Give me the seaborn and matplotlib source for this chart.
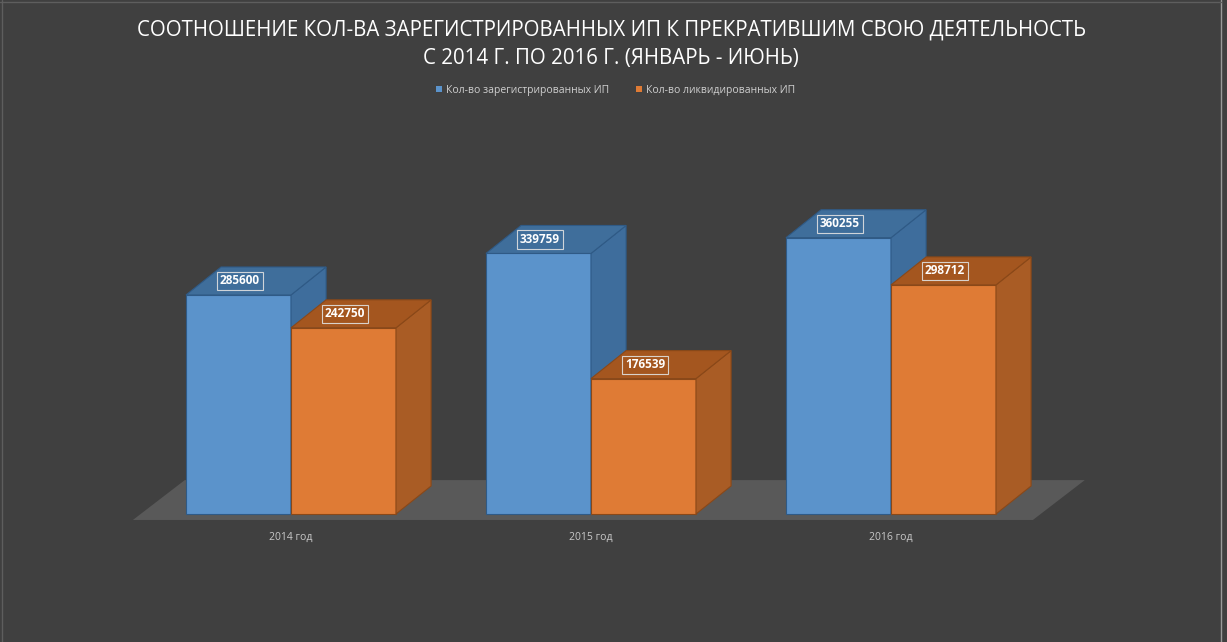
"""Соотношение кол-ва зарегистрированных ИП к прекратившим деятельность, 2014-2016."""

import matplotlib

matplotlib.use("Agg")
import matplotlib.pyplot as plt
import matplotlib.patches as mpatches
from matplotlib.lines import Line2D
import pandas as pd
import seaborn as sns

# --- data -------------------------------------------------------------
years = ["2014 год", "2015 год", "2016 год"]
series = ["Кол-во зарегистрированных ИП", "Кол-во ликвидированных ИП"]
registered = [285600, 339759, 360255]
liquidated = [242750, 176539, 298712]

title = ("СООТНОШЕНИЕ КОЛ-ВА ЗАРЕГИСТРИРОВАННЫХ ИП К ПРЕКРАТИВШИМ СВОЮ ДЕЯТЕЛЬНОСТЬ\n"
         "С 2014 Г. ПО 2016 Г. (ЯНВАРЬ - ИЮНЬ)")

# --- style ------------------------------------------------------------
BG = "#404040"
FLOOR = "#595959"
TXT = "#c8c8c8"
FACES = {
    series[0]: {"front": "#5b93cb", "side": "#3e6d9c", "top": "#3f6e9b", "edge": "#2f5a86"},
    series[1]: {"front": "#df7b35", "side": "#a95c25", "top": "#a4561f", "edge": "#8a4818"},
}
DX, DY = 0.117, 36500          # depth offset of the 3D bars (data units)
FDX, FDY = 0.173, 52000        # depth offset of the floor

sns.set_theme(style="white")
plt.rcParams["font.family"] = ["Open Sans", "DejaVu Sans"]

df = pd.DataFrame({
    "year": years * 2,
    "series": [series[0]] * len(years) + [series[1]] * len(years),
    "value": registered + liquidated,
})

fig = plt.figure(figsize=(12.27, 6.42), dpi=100, facecolor=BG)
ax = fig.add_axes([0.1149, 0.1755, 0.7335, 0.645])
ax.set_facecolor(BG)

sns.barplot(data=df, x="year", y="value", hue="series", order=years, hue_order=series,
            palette=[FACES[s]["front"] for s in series], width=0.7, legend=False,
            saturation=1, ax=ax)

ax.set_xlim(-0.5, 2.5)
ax.set_ylim(-20000, 520000)

# floor
fx0, fx1, fy = -0.527, 2.473, -7800
ax.add_patch(mpatches.Polygon([(fx0, fy), (fx1, fy), (fx1 + FDX, fy + FDY), (fx0 + FDX, fy + FDY)],
                              closed=True, facecolor=FLOOR, edgecolor="none", zorder=1,
                              clip_on=False))

# seaborn draws one hue level after the other
bars = [(bar, s) for bar, s in zip(ax.patches[:len(df)], df["series"])]
bars.sort(key=lambda t: t[0].get_x())

for rank, (bar, s) in enumerate(bars):
    x0, w, h = bar.get_x(), bar.get_width(), bar.get_height()
    c = FACES[s]
    z = 3 + rank
    bar.set_edgecolor(c["edge"])
    bar.set_linewidth(0.8)
    bar.set_zorder(z)
    side = [(x0 + w, 0), (x0 + w + DX, DY), (x0 + w + DX, h + DY), (x0 + w, h)]
    top = [(x0, h), (x0 + w, h), (x0 + w + DX, h + DY), (x0 + DX, h + DY)]
    ax.add_patch(mpatches.Polygon(side, closed=True, facecolor=c["side"], edgecolor=c["edge"],
                                  linewidth=0.8, zorder=z))
    ax.add_patch(mpatches.Polygon(top, closed=True, facecolor=c["top"], edgecolor=c["edge"],
                                  linewidth=0.8, zorder=z))
    ax.text(x0 + w / 2 + 0.005, h + DY * 0.5, f"{h:.0f}", ha="center", va="center",
            fontsize=8.5, fontweight="bold", color="white", zorder=20,
            bbox=dict(boxstyle="square,pad=0.22", facecolor=c["top"], alpha=0.9,
                      edgecolor="#e0e0e0", linewidth=0.8))

ax.set_xlabel("")
ax.set_ylabel("")
ax.set_yticks([])
ax.tick_params(axis="x", length=0, pad=1.5, labelsize=7.5, labelcolor=TXT)
sns.despine(ax=ax, left=True, bottom=True)

# legend
handles = [mpatches.Patch(facecolor=FACES[s]["front"], edgecolor="none", label=s) for s in series]
fig.legend(handles=handles, loc="center", bbox_to_anchor=(0.502, 1 - 90 / 642), ncol=2,
           frameon=False, handlelength=0.55, handleheight=0.55, handletextpad=0.4,
           columnspacing=2.6, fontsize=7.5, labelcolor="#cfcfcf")

fig.text(0.498, 1 - 44 / 642, title, ha="center", va="center", fontsize=14.8, color="white",
         linespacing=1.45)

# sheet frame lines
fig.add_artist(Line2D([0.9951, 0.9951], [0, 1], color="#9a9a9a", linewidth=1))
fig.add_artist(Line2D([0.002, 0.002], [0, 1], color="#5e5e5e", linewidth=1))
fig.add_artist(Line2D([0, 0.995], [0.997, 0.997], color="#5e5e5e", linewidth=1))

fig.savefig("out.png", dpi=100, facecolor=BG)
